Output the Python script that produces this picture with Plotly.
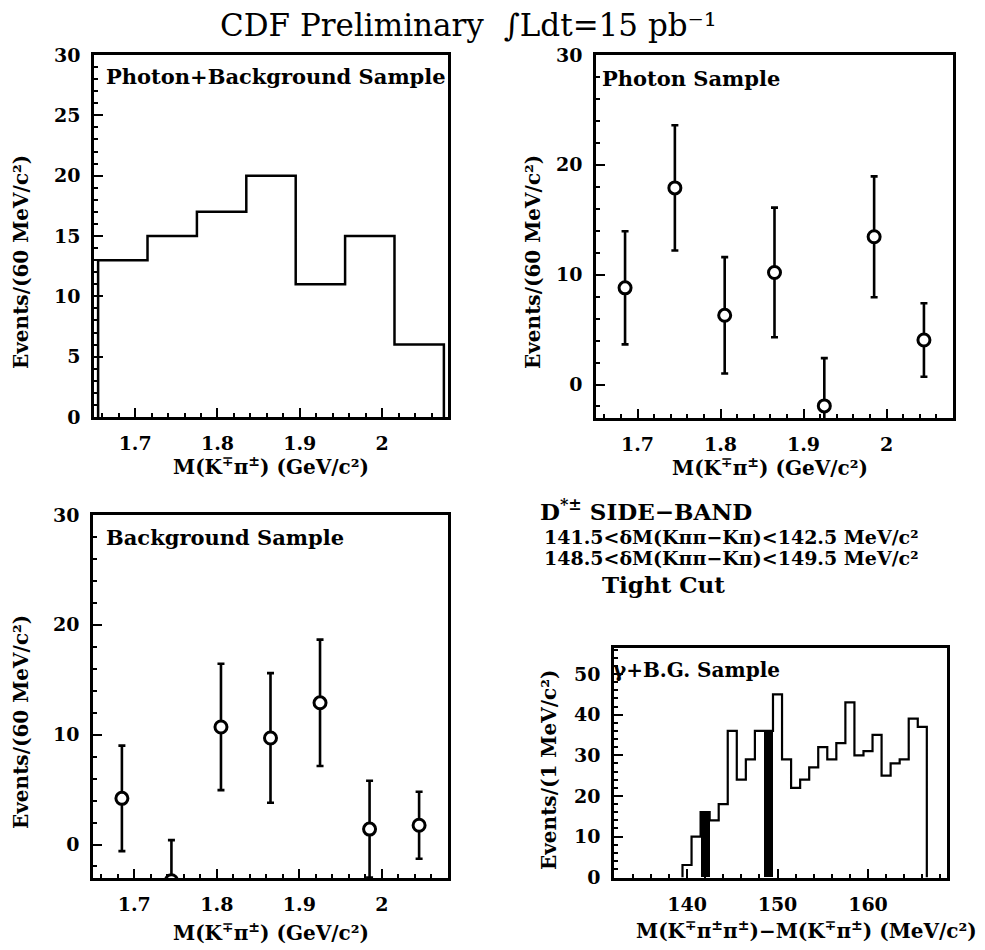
import plotly.graph_objects as go

W, H = 985, 950
OFF = 8            # page body margin
FW, FH = W - OFF, H - OFF

# ---------------- data ----------------
# Top-left: Photon+Background sample histogram (60 MeV bins)
mass_edges = [1.655, 1.715, 1.775, 1.835, 1.895, 1.955, 2.015, 2.075]
pb_counts = [13, 15, 17, 20, 11, 15, 6]

# Top-right / bottom-left: bin centres for points
mass_centers = [1.685, 1.745, 1.805, 1.865, 1.925, 1.985, 2.045]
photon_vals = [8.8, 17.9, 6.3, 10.2, -1.95, 13.45, 4.05]
photon_errs = [5.15, 5.7, 5.3, 5.9, 4.35, 5.5, 3.35]

bg_vals = [4.2, -3.3, 10.7, 9.7, 12.9, 1.4, 1.75]
bg_errs = [4.8, 3.7, 5.75, 5.9, 5.75, 4.4, 3.05]

# Bottom-right: delta-M histogram (1 MeV bins)
dm_centers = list(range(140, 167))
dm_counts = [3, 10, 16, 14, 18, 36, 24, 29, 36, 36, 45, 29, 22, 24, 27,
             32, 29, 33, 43, 30, 31, 35, 25, 28, 29, 39, 37]
sideband_centers = [142, 149]
sideband_counts = [16, 36]

# tick settings
x_mass_ticks = [1.7, 1.8, 1.9, 2.0]
x_mass_ticklabels = ["1.7", "1.8", "1.9", "2"]

FONT = "DejaVu Serif"


def px(x):
    return (x - OFF) / FW


def py(y):
    return 1 - (y - OFF) / FH


def step_xy(edges, counts):
    xs = [edges[0]] + list(edges)
    ys = [0] + list(counts) + [0]
    return xs, ys


fig = go.Figure()

# TL histogram
hx, hy = step_xy(mass_edges, pb_counts)
fig.add_trace(go.Scatter(x=hx, y=hy, mode="lines", line=dict(color="black", width=2.5, shape="hv"),
                         xaxis="x", yaxis="y", showlegend=False))

marker_style = dict(symbol="circle", size=12, color="white", line=dict(color="black", width=3))
err_style = dict(type="data", visible=True, thickness=2.6, width=3.5, color="black")

# TR photon sample
fig.add_trace(go.Scatter(x=mass_centers, y=photon_vals, mode="markers", marker=marker_style,
                         error_y=dict(array=photon_errs, **err_style),
                         xaxis="x2", yaxis="y2", showlegend=False))

# BL background sample
fig.add_trace(go.Scatter(x=mass_centers, y=bg_vals, mode="markers", marker=marker_style,
                         error_y=dict(array=bg_errs, **err_style),
                         xaxis="x3", yaxis="y3", showlegend=False))

# BR side-band filled bins + histogram
fig.add_trace(go.Bar(x=sideband_centers, y=sideband_counts, width=1.0,
                     marker=dict(color="black", line=dict(width=0)),
                     xaxis="x4", yaxis="y4", showlegend=False))
dm_edges = [c - 0.5 for c in dm_centers] + [dm_centers[-1] + 0.5]
dx, dy = step_xy(dm_edges, dm_counts)
fig.add_trace(go.Scatter(x=dx, y=dy, mode="lines", line=dict(color="black", width=2.2, shape="hv"),
                         xaxis="x4", yaxis="y4", showlegend=False))

tickfont = dict(family=FONT, size=19, color="black", weight="bold")


def axis(domain, rng, dtick, minor_dtick, anchor, tickvals=None, ticktext=None):
    d = dict(domain=domain, range=rng, showline=True, linewidth=2.5, linecolor="black",
             mirror=True, ticks="inside", ticklen=9, tickwidth=2, tickcolor="black",
             showgrid=False, zeroline=False, tickfont=tickfont, anchor=anchor,
             automargin=False, ticklabelstandoff=7,
             minor=dict(ticks="inside", ticklen=4, tickwidth=1.5, tickcolor="black",
                        dtick=minor_dtick, showgrid=False))
    if tickvals is not None:
        d.update(tickmode="array", tickvals=tickvals, ticktext=ticktext)
    else:
        d.update(dtick=dtick, tick0=0)
    return d


TLx = [px(94), px(448)]
TLy = [py(417), py(55)]
TRx = [px(596), px(953)]
TRy = [py(418), py(55)]
BLx = [px(93), px(448)]
BLy = [py(878), py(515)]
BRx = [px(614), px(947)]
BRy = [py(878), py(648)]

fig.update_layout(
    width=FW, height=FH,
    margin=dict(l=0, r=0, t=0, b=0),
    paper_bgcolor="white", plot_bgcolor="white",
    showlegend=False,
    bargap=0,
    xaxis=axis(TLx, [1.65, 2.08], None, 0.02, "y", x_mass_ticks, x_mass_ticklabels),
    yaxis=axis(TLy, [0, 30], 5, 1, "x"),
    xaxis2=axis(TRx, [1.65, 2.08], None, 0.02, "y2", x_mass_ticks, x_mass_ticklabels),
    yaxis2=axis(TRy, [-3.05, 30], 10, 2, "x2"),
    xaxis3=axis(BLx, [1.65, 2.08], None, 0.02, "y3", x_mass_ticks, x_mass_ticklabels),
    yaxis3=axis(BLy, [-3.05, 30], 10, 2, "x3"),
    xaxis4=axis(BRx, [131.93, 168.73], 10, 2, "y4"),
    yaxis4=axis(BRy, [-0.2, 56.4], 10, 2, "x4"),
)

ann = []


def text(x, y, s, size, xanchor="center", bold=True, angle=0, family=FONT, yanchor="middle"):
    ann.append(dict(x=px(x), y=py(y), xref="paper", yref="paper", text=s, showarrow=False,
                    xanchor=xanchor, yanchor=yanchor, textangle=angle,
                    font=dict(family=family, size=size, color="black",
                              weight="bold" if bold else "normal")))


# title
text(218, 25, "CDF Preliminary&nbsp;&nbsp;∫Ldt=15 pb⁻¹", 31, xanchor="left", bold=False)

# panel labels
text(104, 77, "Photon+Background Sample", 21, xanchor="left")
text(600, 79, "Photon Sample", 21, xanchor="left")
text(104, 537, "Background Sample", 21, xanchor="left")
text(611, 670, "γ+B.G. Sample", 20, xanchor="left")

# side-band text block
text(538, 510, "D<sup>*±</sup> SIDE−BAND", 23, xanchor="left")
text(542, 537, "141.5&lt;δM(Kππ−Kπ)&lt;142.5 MeV/c²", 19, xanchor="left")
text(542, 558, "148.5&lt;δM(Kππ−Kπ)&lt;149.5 MeV/c²", 19, xanchor="left")
text(600, 584, "Tight Cut", 23, xanchor="left")

# axis titles
xt_mass = "M(K<sup>∓</sup>π<sup>±</sup>) (GeV/c²)"
yt_mass = "Events/(60 MeV/c²)"
text(271, 466, xt_mass, 20)
text(770, 467, xt_mass, 20)
text(271, 932, xt_mass, 20)
text(806, 930, "M(K<sup>∓</sup>π<sup>±</sup>π<sup>±</sup>)−M(K<sup>∓</sup>π<sup>±</sup>) (MeV/c²)", 20)
text(21, 262, yt_mass, 20, angle=-90)
text(533, 262, yt_mass, 20, angle=-90)
text(21, 722, yt_mass, 20, angle=-90)
text(549, 770, "Events/(1 MeV/c²)", 20, angle=-90)

fig.update_layout(annotations=ann)

fig.write_html("out.html")
